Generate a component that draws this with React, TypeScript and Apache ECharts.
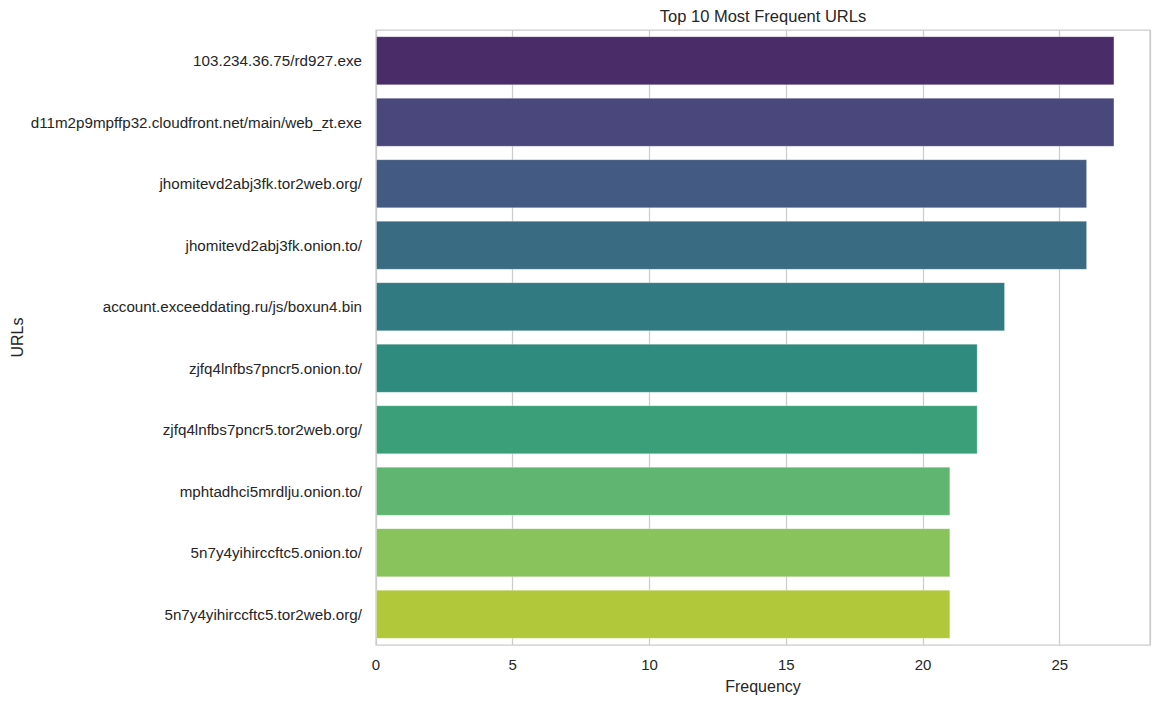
import React, { useEffect, useRef } from "react";
import * as echarts from "echarts";

const urls = [
  "103.234.36.75/rd927.exe",
  "d11m2p9mpffp32.cloudfront.net/main/web_zt.exe",
  "jhomitevd2abj3fk.tor2web.org/",
  "jhomitevd2abj3fk.onion.to/",
  "account.exceeddating.ru/js/boxun4.bin",
  "zjfq4lnfbs7pncr5.onion.to/",
  "zjfq4lnfbs7pncr5.tor2web.org/",
  "mphtadhci5mrdlju.onion.to/",
  "5n7y4yihirccftc5.onion.to/",
  "5n7y4yihirccftc5.tor2web.org/",
];
const frequency = [27, 27, 26, 26, 23, 22, 22, 21, 21, 21];
const xTicks = [0, 5, 10, 15, 20, 25];

// viridis samples (seaborn palette, 10 colours)
const viridis10: number[][] = [
  [0.283072, 0.130895, 0.449241],
  [0.262138, 0.242286, 0.520837],
  [0.220057, 0.343307, 0.549413],
  [0.177423, 0.437527, 0.557565],
  [0.143343, 0.522773, 0.556295],
  [0.119512, 0.607464, 0.540218],
  [0.166383, 0.690856, 0.496502],
  [0.319809, 0.770914, 0.411152],
  [0.525776, 0.833491, 0.288127],
  [0.762373, 0.876424, 0.137064],
];

function desat(c: number[], k: number): string {
  const mx = Math.max(...c);
  const mn = Math.min(...c);
  const l = (mx + mn) / 2;
  const out = c.map((v) => Math.round(Math.min(1, Math.max(0, l + (v - l) * k)) * 255));
  return "#" + out.map((v) => v.toString(16).padStart(2, "0")).join("");
}

const FONT = "'Liberation Sans', Arial, Helvetica, sans-serif";
const TXT = "#262626";

export default function App() {
  const ref = useRef<HTMLDivElement>(null);
  useEffect(() => {
    if (!ref.current) return;
    const chart = echarts.init(ref.current, undefined, { renderer: "svg" });
    const colors = viridis10.map((c) => desat(c, 0.75));
    chart.setOption({
      animation: false,
      backgroundColor: "#ffffff",
      textStyle: { fontFamily: FONT },
      grid: {
        left: 376,
        right: 11,
        top: 30,
        bottom: 59,
        outerBoundsMode: "none",
        containLabel: false,
        show: true,
        borderColor: "#cccccc",
        borderWidth: 1.25,
        backgroundColor: "#ffffff",
      },
      graphic: [
        {
          type: "text",
          x: 763,
          y: 15.5,
          style: {
            text: "Top 10 Most Frequent URLs",
            fontSize: 16.5,
            fontFamily: FONT,
            fill: TXT,
            textAlign: "center",
            textVerticalAlign: "middle",
          },
        },
      ],
      xAxis: {
        type: "value",
        min: 0,
        max: 28.3,
        interval: 5,
        name: "Frequency",
        nameLocation: "middle",
        nameGap: 33,
        nameMoveOverlap: false,
        nameTextStyle: { fontSize: 16, color: TXT, fontFamily: FONT },
        axisLine: { show: false },
        axisTick: { show: false },
        axisLabel: {
          fontSize: 15,
          color: TXT,
          fontFamily: FONT,
          margin: 12,
          formatter: (v: number) => (xTicks.includes(v) ? String(v) : ""),
        },
        splitLine: { show: true, lineStyle: { color: "#cccccc", width: 1.25 } },
      },
      yAxis: {
        type: "category",
        data: urls,
        inverse: true,
        name: "URLs",
        nameLocation: "middle",
        nameGap: 351,
        nameMoveOverlap: false,
        nameTextStyle: { fontSize: 16, color: TXT, fontFamily: FONT },
        axisLine: { show: false },
        axisTick: { show: false },
        splitLine: { show: false },
        axisLabel: { fontSize: 15.2, color: TXT, fontFamily: FONT, margin: 14 },
      },
      series: [
        {
          type: "bar",
          barWidth: "80%",
          data: frequency.map((v, i) => ({
            value: v,
            itemStyle: {
              color: colors[i],
              borderColor: "rgba(255,255,255,0.3)",
              borderWidth: 1,
            },
          })),
        },
      ],
    });
    return () => chart.dispose();
  }, []);
  return (
    <div
      ref={ref}
      style={{ position: "fixed", left: 0, top: 0, width: 1161, height: 704 }}
    />
  );
}
